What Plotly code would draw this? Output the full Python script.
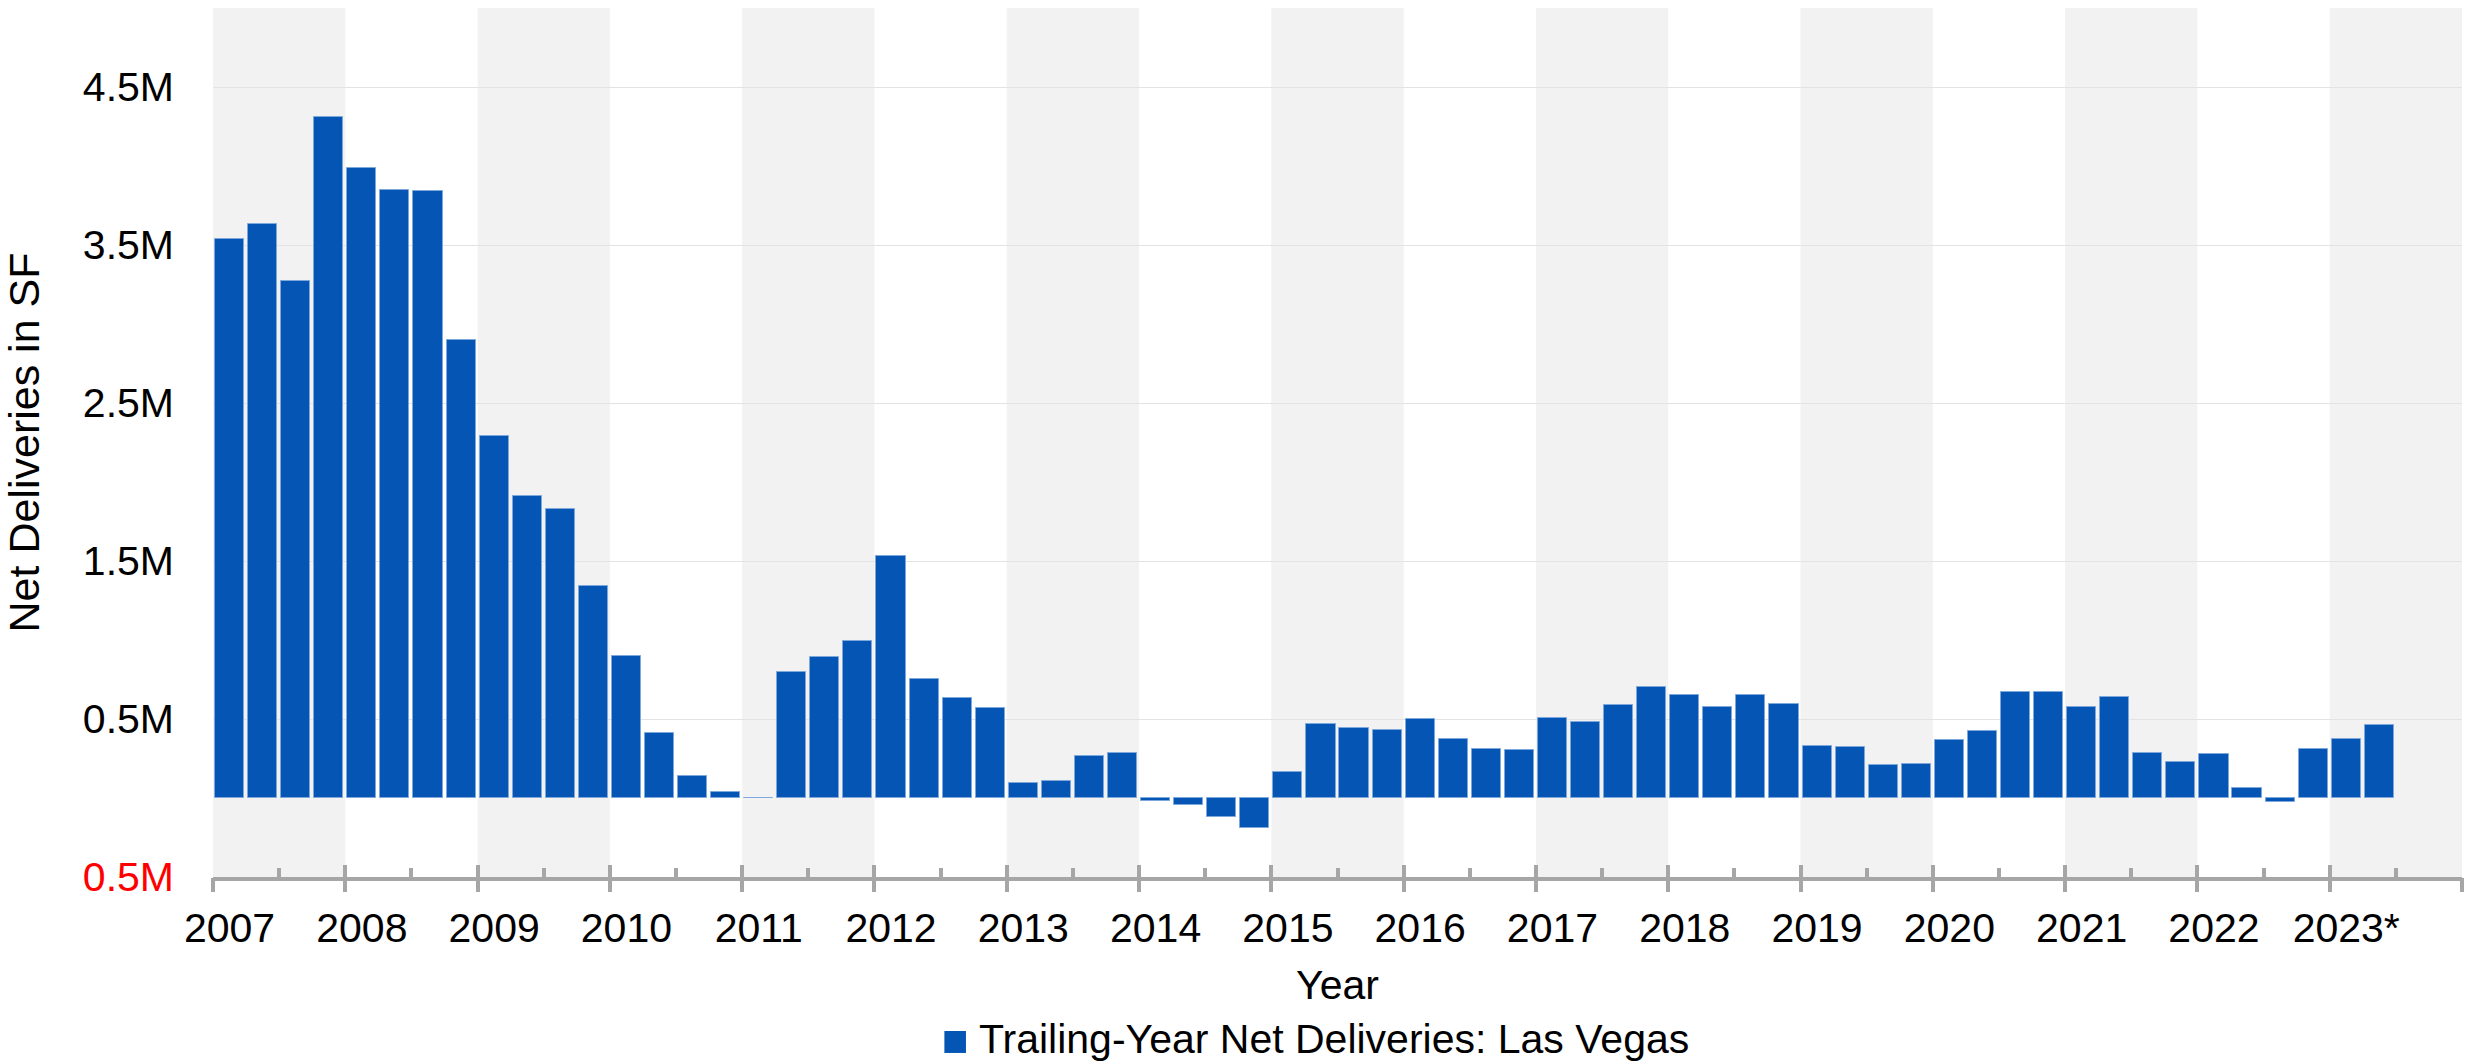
import plotly.graph_objects as go

# ---------------- data ----------------
first_year = 2007
years = list(range(2007, 2024))               # year bands 2007 .. 2023
year_labels = [str(y) for y in range(2007, 2023)] + ["2023*"]

# trailing-year net deliveries, millions of SF, quarterly from 2007 Q1
net_deliveries_m = [
    3.54, 3.63, 3.27, 4.31,      # 2007
    3.99, 3.85, 3.84, 2.90,      # 2008
    2.29, 1.91, 1.83, 1.34,      # 2009
    0.90, 0.41, 0.14, 0.04,      # 2010
    0.002, 0.80, 0.895, 0.996,   # 2011
    1.53, 0.753, 0.631, 0.57,    # 2012
    0.097, 0.11, 0.266, 0.287,   # 2013
    -0.021, -0.044, -0.122, -0.188,  # 2014
    0.165, 0.468, 0.443, 0.432,  # 2015
    0.498, 0.376, 0.308, 0.304,  # 2016
    0.508, 0.481, 0.591, 0.705,  # 2017
    0.652, 0.576, 0.650, 0.597,  # 2018
    0.331, 0.323, 0.209, 0.217,  # 2019
    0.365, 0.422, 0.669, 0.673,  # 2020
    0.578, 0.637, 0.283, 0.228,  # 2021
    0.281, 0.065, -0.027, 0.312, # 2022
    0.371, 0.460,                # 2023
]

y_tick_vals = [-0.5e6, 0.5e6, 1.5e6, 2.5e6, 3.5e6, 4.5e6]
y_tick_text = ['<span style="color:#ff0000">0.5M</span>', "0.5M", "1.5M", "2.5M", "3.5M", "4.5M"]

series_name = "Trailing-Year Net Deliveries: Las Vegas"

# ---------------- styling ----------------
BAR = "#0556b4"
BAR_EDGE = "#7ea8dc"
AXIS_GRAY = "#a6a6a6"
BAND = "#f2f2f2"
FONT = "Liberation Sans, Arial, sans-serif"

x_pos = [first_year + i * 0.25 + 0.125 for i in range(len(net_deliveries_m))]
y_vals = [v * 1e6 for v in net_deliveries_m]

fig = go.Figure()
fig.add_trace(go.Bar(
    x=x_pos, y=y_vals, width=0.22, name=series_name, showlegend=False,
    marker=dict(color=BAR, line=dict(color=BAR_EDGE, width=1)),
))
# invisible helpers so the overlay tick axes exist
for ax in ("x2", "x3"):
    fig.add_trace(go.Scatter(x=[years[0]], y=[None], xaxis=ax, yaxis="y",
                             mode="markers", showlegend=False, hoverinfo="skip"))

# alternating year bands
shapes = []
for i, yr in enumerate(years):
    if i % 2 == 0:
        shapes.append(dict(type="rect", xref="x", yref="paper", x0=yr, x1=yr + 1,
                           y0=0, y1=1, fillcolor=BAND, line=dict(width=0), layer="below"))

# manual legend swatch
shapes.append(dict(type="rect", xref="paper", yref="paper",
                   x0=0.3252, x1=0.3348, y0=-0.2025, y1=-0.1772,
                   fillcolor=BAR, line=dict(width=0)))

x_range = [years[0], years[-1] + 1]
major_ticks = years + [years[-1] + 1]
minor_ticks = [yr + 0.5 for yr in years]

fig.update_layout(
    width=2471, height=1063,
    margin=dict(l=213, r=9, t=8, b=186, autoexpand=False),
    paper_bgcolor="white", plot_bgcolor="white",
    font=dict(family=FONT, size=42, color="black"),
    bargap=0,
    shapes=shapes,
    xaxis=dict(
        range=x_range, tickmode="array",
        tickvals=[yr + 0.125 for yr in years], ticktext=year_labels,
        ticks="", showline=True, linecolor=AXIS_GRAY, linewidth=4,
        showgrid=False, zeroline=False, tickfont=dict(size=41),
        ticklabelstandoff=12,
        title=dict(text="Year", font=dict(size=41), standoff=21),
        fixedrange=True,
    ),
    xaxis2=dict(
        range=x_range, overlaying="x", anchor="y", side="bottom",
        tickmode="array", tickvals=major_ticks, ticks="outside", ticklen=14,
        tickwidth=4, tickcolor=AXIS_GRAY, showticklabels=False,
        showgrid=False, zeroline=False, showline=False, fixedrange=True,
    ),
    xaxis3=dict(
        range=x_range, overlaying="x", anchor="y", side="bottom",
        tickmode="array", tickvals=major_ticks, ticks="inside", ticklen=12,
        tickwidth=4, tickcolor=AXIS_GRAY, showticklabels=False,
        showgrid=False, zeroline=False, showline=False, fixedrange=True,
        minor=dict(tickmode="array", tickvals=minor_ticks, ticks="inside",
                   ticklen=9, tickwidth=4, tickcolor=AXIS_GRAY, showgrid=False),
    ),
    yaxis=dict(
        range=[-0.5e6, 5.0e6], tickmode="array",
        tickvals=y_tick_vals, ticktext=y_tick_text,
        ticks="", showgrid=True, gridcolor="#e3e3e3", gridwidth=1,
        zeroline=False, showline=False, tickfont=dict(size=41),
        ticklabelstandoff=38,
        title=dict(text="Net Deliveries in SF", font=dict(size=43), standoff=30),
        fixedrange=True,
    ),
    annotations=[dict(
        text=series_name, xref="paper", yref="paper",
        x=0.3397, y=-0.1865, xanchor="left", yanchor="middle",
        showarrow=False, font=dict(size=41, color="black"),
    )],
)

fig.write_html("out.html", config={"displayModeBar": False},
               post_script="document.body.style.margin='0px';")
